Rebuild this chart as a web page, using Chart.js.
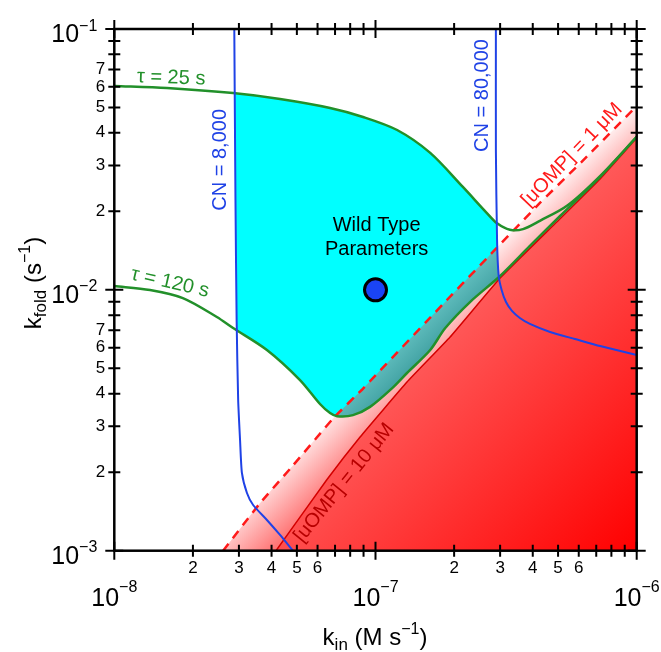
<!DOCTYPE html>
<html>
<head>
<meta charset="utf-8">
<script src="https://cdn.jsdelivr.net/npm/chart.js@4/dist/chart.umd.min.js"></script>
<style>
  html, body { margin: 0; padding: 0; background: #fff; }
  #wrap { width: 661px; height: 652px; }
</style>
</head>
<body>
<div id="wrap"><canvas id="foldChart" width="661" height="652"></canvas></div>
<script>
// axes: k_in (M s-1) along x, k_fold (s-1) along y, both logarithmic
const xTickValues = [1e-8, 2e-8, 3e-8, 4e-8, 5e-8, 6e-8, 7e-8, 8e-8, 9e-8,
  1e-7, 2e-7, 3e-7, 4e-7, 5e-7, 6e-7, 7e-7, 8e-7, 9e-7, 1e-6];
const xTickLabels = ['', '2', '3', '4', '5', '6', '', '', '',
  '', '2', '3', '4', '5', '6', '', '', '', ''];
const yTickValues = [1e-3, 2e-3, 3e-3, 4e-3, 5e-3, 6e-3, 7e-3, 8e-3, 9e-3,
  1e-2, 2e-2, 3e-2, 4e-2, 5e-2, 6e-2, 7e-2, 8e-2, 9e-2, 1e-1];
const yTickLabels = ['', '2', '3', '4', '5', '6', '7', '', '',
  '', '2', '3', '4', '5', '6', '7', '', '', ''];
const xDecades = [1e-8, 1e-7, 1e-6];
const xDecadeExp = ['\u22128', '\u22127', '\u22126'];
const yDecades = [1e-3, 1e-2, 1e-1];
const yDecadeExp = ['\u22123', '\u22122', '\u22121'];

// folding time contours
const tau25X = [1e-8, 1.59e-8, 2.85e-8, 4.31e-8, 6.70e-8, 8.96e-8, 1.21e-7, 1.62e-7, 2.16e-7,
  2.67e-7, 2.92e-7, 3.27e-7, 3.67e-7, 4.26e-7, 5.41e-7, 7.24e-7, 1e-6];
const tau25Y = [0.0605, 0.0594, 0.0568, 0.0539, 0.0498, 0.0460, 0.0410, 0.0335, 0.0248,
  0.0197, 0.0180, 0.0170, 0.0171, 0.0184, 0.0210, 0.0273, 0.0386];
const tau120X = [1e-8, 1.37e-8, 1.83e-8, 2.47e-8, 2.85e-8, 3.84e-8, 5.14e-8, 6.13e-8, 6.70e-8,
  7.12e-8, 8.20e-8, 9.53e-8, 1.17e-7, 1.32e-7, 1.62e-7, 1.85e-7, 2.30e-7, 3.00e-7, 3.90e-7,
  5.09e-7, 7.24e-7, 1e-6];
const tau120Y = [0.01034, 0.00999, 0.0093, 0.00787, 0.00714, 0.00588, 0.00451, 0.00365, 0.00337,
  0.00328, 0.00331, 0.00356, 0.00424, 0.00480, 0.00588, 0.00714, 0.00898, 0.0113, 0.01473,
  0.01919, 0.0271, 0.0386];

// copy number contours
const cn8000X = [2.88e-8, 2.91e-8, 2.94e-8, 2.98e-8, 3.03e-8, 3.08e-8, 3.22e-8, 3.40e-8, 3.84e-8, 4.31e-8, 4.83e-8];
const cn8000Y = [0.1, 0.02211, 0.007664, 0.003781, 0.002657, 0.001986, 0.001664, 0.001497, 0.001311, 0.001149, 0.001];
const cn80000X = [2.89e-7, 2.89e-7, 2.92e-7, 2.96e-7, 3.04e-7, 3.16e-7, 3.33e-7, 3.57e-7, 3.90e-7, 4.66e-7, 5.80e-7, 7.24e-7, 1e-6];
const cn80000Y = [0.1, 0.03437, 0.01553, 0.0114, 0.00999, 0.00898, 0.0083, 0.0078, 0.0074, 0.00689, 0.00648, 0.00609, 0.00563];

// unfolded OMP concentration limits
const uomp1X = [2.61e-8, 3.61e-8, 4.85e-8, 6.89e-8, 8.98e-8, 1.85e-7, 2.82e-7, 4.26e-7, 6.44e-7, 1e-6];
const uomp1Y = [0.001, 0.00152, 0.002131, 0.003218, 0.004195, 0.009007, 0.014, 0.02153, 0.03239, 0.0507];
const uomp10X = [4.16e-8, 6.50e-8, 8.73e-8, 1.32e-7, 1.93e-7, 3.00e-7, 4.94e-7, 7.24e-7, 1e-6];
const uomp10Y = [0.001, 0.001866, 0.002729, 0.004432, 0.006596, 0.0111, 0.0182, 0.02661, 0.03821];

// wild type parameters
const wildTypeX = [1e-7];
const wildTypeY = [1e-2];

const FONT = "'Liberation Sans', Arial, Helvetica, sans-serif";
const GREEN = '#22902a';
const BLUE = '#1f42e6';
const toPts = (xs, ys) => xs.map((x, i) => ({x: x, y: ys[i]}));
const isDecade = v => Math.abs(Math.log10(v) - Math.round(Math.log10(v))) < 1e-6;

// dataset indexes (0 is drawn on top)
const DS = {wt: 0, cn8000: 1, cn80000: 2, tau25: 3, tau120: 4, uomp10: 5, uomp1: 6};

// gradient running across the diagonal of the plot, f = 0 top-left, 1 bottom-right
function diagGradient(chart, f0, f1, stops) {
  const a = chart.chartArea;
  const base = a.left + a.top, span = a.width + a.height;
  const s0 = base + f0 * span, s1 = base + f1 * span;
  const g = chart.ctx.createLinearGradient(s0 / 2, s0 / 2, s1 / 2, s1 / 2);
  stops.forEach(s => g.addColorStop(s[0], s[1]));
  return g;
}

const notes = [
  {text: '\u03c4 = 25 s', x: 1.65e-8, y: 0.0649, rot: 2, color: GREEN, size: 20},
  {text: '\u03c4 = 120 s', x: 1.634e-8, y: 0.01065, rot: 13, color: GREEN, size: 20},
  {text: 'CN = 8,000', x: 2.56e-8, y: 0.0315, rot: -90, color: BLUE, size: 20},
  {text: 'CN = 80,000', x: 2.56e-7, y: 0.0556, rot: -90, color: BLUE, size: 20},
  {text: '[uOMP] = 1 \u03bcM', x: 5.65e-7, y: 0.0329, rot: -46, color: '#ff1a1a', size: 20},
  {text: '[uOMP] = 10 \u03bcM', x: 7.58e-8, y: 0.00182, rot: -51, color: '#b80000', size: 20},
  {text: 'Wild Type', x: 1.01e-7, y: 0.0177, rot: 0, color: '#000', size: 20},
  {text: 'Parameters', x: 1.01e-7, y: 0.01434, rot: 0, color: '#000', size: 20}
];

function richText(ctx, parts, cx, cy, angle, align) {
  ctx.save();
  ctx.translate(cx, cy);
  ctx.rotate(angle);
  let total = 0;
  parts.forEach(p => { ctx.font = p.size + 'px ' + FONT; p.w = ctx.measureText(p.text).width; total += p.w; });
  let x = align === 'right' ? -total : -total / 2;
  ctx.textAlign = 'left';
  ctx.textBaseline = 'alphabetic';
  ctx.fillStyle = '#000';
  parts.forEach(p => { ctx.font = p.size + 'px ' + FONT; ctx.fillText(p.text, x, p.dy); x += p.w; });
  ctx.restore();
}

// cyan window between the copy number and folding time contours
const regionPlugin = {
  id: 'regions',
  beforeDatasetsDraw(chart) {
    const {ctx, chartArea: a} = chart;
    const trace = idx => {
      const line = chart.getDatasetMeta(idx).dataset;
      line.updateControlPoints(a, 'x');
      line.path(ctx);
    };
    ctx.save();
    ctx.beginPath(); trace(DS.cn8000);
    ctx.lineTo(a.right, a.bottom); ctx.lineTo(a.right, a.top); ctx.closePath(); ctx.clip();
    ctx.beginPath(); trace(DS.cn80000);
    ctx.lineTo(a.right, a.bottom); ctx.lineTo(a.left, a.bottom); ctx.lineTo(a.left, a.top); ctx.closePath(); ctx.clip();
    ctx.beginPath(); trace(DS.tau25);
    ctx.lineTo(a.right, a.bottom); ctx.lineTo(a.left, a.bottom); ctx.closePath(); ctx.clip();
    ctx.beginPath(); trace(DS.tau120);
    ctx.lineTo(a.right, a.top); ctx.lineTo(a.left, a.top); ctx.closePath(); ctx.clip();
    ctx.fillStyle = '#00ffff';
    ctx.fillRect(a.left, a.top, a.width, a.height);
    // the part of it below [uOMP] = 1 uM
    ctx.beginPath(); trace(DS.uomp1);
    ctx.lineTo(a.right, a.bottom); ctx.closePath(); ctx.clip();
    ctx.fillStyle = diagGradient(chart, 0.57, 0.63, [[0, 'rgb(100,192,192)'], [1, 'rgb(52,150,152)']]);
    ctx.fillRect(a.left, a.top, a.width, a.height);
    ctx.restore();
  }
};

// frame, tick marks, decade labels, axis titles and notes
const axesPlugin = {
  id: 'axesDecor',
  afterDraw(chart) {
    const {ctx, chartArea: a} = chart;
    const xs = chart.scales.x, ys = chart.scales.y;
    ctx.save();
    ctx.strokeStyle = '#000';
    ctx.lineWidth = 2;
    ctx.beginPath();
    xs.ticks.forEach(t => {
      const p = xs.getPixelForValue(t.value);
      const L = isDecade(t.value) ? 9 : 6;
      ctx.moveTo(p, a.bottom - L); ctx.lineTo(p, a.bottom + L);
      ctx.moveTo(p, a.top - L); ctx.lineTo(p, a.top + L);
    });
    ys.ticks.forEach(t => {
      const p = ys.getPixelForValue(t.value);
      const L = isDecade(t.value) ? 9 : 6;
      ctx.moveTo(a.left - L, p); ctx.lineTo(a.left + L, p);
      ctx.moveTo(a.right - L, p); ctx.lineTo(a.right + L, p);
    });
    ctx.stroke();
    ctx.lineWidth = 2.5;
    ctx.strokeRect(a.left, a.top, a.width, a.height);
    ctx.restore();

    xDecades.forEach((v, i) => {
      richText(ctx, [{text: '10', size: 25, dy: 9}, {text: xDecadeExp[i], size: 16, dy: -4.5}],
        xs.getPixelForValue(v), a.bottom + 46, 0, 'center');
    });
    yDecades.forEach((v, i) => {
      richText(ctx, [{text: '10', size: 25, dy: 13.3}, {text: yDecadeExp[i], size: 16, dy: 1.5}],
        a.left - 17, ys.getPixelForValue(v), 0, 'right');
    });

    richText(ctx, [{text: 'k', size: 24, dy: 8.6}, {text: 'in', size: 17, dy: 14},
      {text: ' (M s', size: 24, dy: 8.6}, {text: '\u22121', size: 16, dy: -2}, {text: ')', size: 24, dy: 8.6}],
      375, 636, 0, 'center');
    richText(ctx, [{text: 'k', size: 24, dy: 8.6}, {text: 'fold', size: 17, dy: 14},
      {text: ' (s', size: 24, dy: 8.6}, {text: '\u22121', size: 16, dy: -2}, {text: ')', size: 24, dy: 8.6}],
      32, 283, -Math.PI / 2, 'center');

    ctx.save();
    ctx.textAlign = 'center';
    ctx.textBaseline = 'middle';
    notes.forEach(n => {
      ctx.save();
      ctx.translate(xs.getPixelForValue(n.x), ys.getPixelForValue(n.y));
      ctx.rotate(n.rot * Math.PI / 180);
      ctx.font = n.size + 'px ' + FONT;
      ctx.fillStyle = n.color;
      ctx.fillText(n.text, 0, 0);
      ctx.restore();
    });
    ctx.restore();
  }
};

const lineSet = (label, xs, ys, color, width, extra) => Object.assign({
  label: label,
  data: toPts(xs, ys),
  showLine: true,
  borderColor: color,
  borderWidth: width,
  pointRadius: 0,
  pointHoverRadius: 0,
  fill: false,
  tension: 0.3
}, extra || {});

const datasets = [];
datasets[DS.wt] = {
  label: 'Wild Type Parameters',
  data: toPts(wildTypeX, wildTypeY),
  showLine: false,
  pointRadius: 11,
  pointHoverRadius: 11,
  pointBackgroundColor: '#1a44f5',
  pointBorderColor: '#000',
  pointBorderWidth: 3
};
datasets[DS.cn8000] = lineSet('CN = 8,000', cn8000X, cn8000Y, BLUE, 2, {tension: 0.2});
datasets[DS.cn80000] = lineSet('CN = 80,000', cn80000X, cn80000Y, BLUE, 2, {tension: 0.2});
datasets[DS.tau25] = lineSet('tau = 25 s', tau25X, tau25Y, GREEN, 2.5);
datasets[DS.tau120] = lineSet('tau = 120 s', tau120X, tau120Y, GREEN, 2.5);
datasets[DS.uomp10] = lineSet('[uOMP] = 10 uM', uomp10X, uomp10Y, '#d40000', 1.5, {
  tension: 0.1,
  fill: 'start',
  backgroundColor: c => c.chart.chartArea
    ? diagGradient(c.chart, 0.61, 1.0, [[0, 'rgb(255,88,88)'], [1, 'rgb(255,0,0)']])
    : 'rgb(255,60,60)'
});
datasets[DS.uomp1] = lineSet('[uOMP] = 1 uM', uomp1X, uomp1Y, '#ff1a1a', 2.5, {
  tension: 0.1,
  borderDash: [9, 7],
  fill: 'start',
  backgroundColor: c => c.chart.chartArea
    ? diagGradient(c.chart, 0.575, 0.65, [[0, 'rgb(255,236,236)'], [1, 'rgb(255,118,118)']])
    : 'rgb(255,190,190)'
});

new Chart(document.getElementById('foldChart'), {
  type: 'scatter',
  data: {datasets: datasets},
  options: {
    responsive: false,
    devicePixelRatio: 1,
    animation: false,
    events: [],
    layout: {padding: {left: 0, top: 29, right: 24.3, bottom: 0}},
    plugins: {
      legend: {display: false},
      tooltip: {enabled: false},
      filler: {drawTime: 'beforeDatasetsDraw'}
    },
    scales: {
      x: {
        type: 'logarithmic',
        min: 1e-8,
        max: 1e-6,
        afterBuildTicks: axis => { axis.ticks = xTickValues.map(v => ({value: v})); },
        afterFit: axis => { axis.height = 101.3; },
        grid: {display: false, drawTicks: false},
        border: {display: false},
        ticks: {
          autoSkip: false, maxRotation: 0, minRotation: 0, padding: 7,
          color: '#000', font: {family: FONT, size: 17},
          callback: (v, i) => xTickLabels[i]
        }
      },
      y: {
        type: 'logarithmic',
        min: 1e-3,
        max: 1e-1,
        afterBuildTicks: axis => { axis.ticks = yTickValues.map(v => ({value: v})); },
        afterFit: axis => { axis.width = 114.3; },
        grid: {display: false, drawTicks: false},
        border: {display: false},
        ticks: {
          autoSkip: false, padding: 9,
          color: '#000', font: {family: FONT, size: 17},
          callback: (v, i) => yTickLabels[i]
        }
      }
    }
  },
  plugins: [regionPlugin, axesPlugin]
});
</script>
</body>
</html>
